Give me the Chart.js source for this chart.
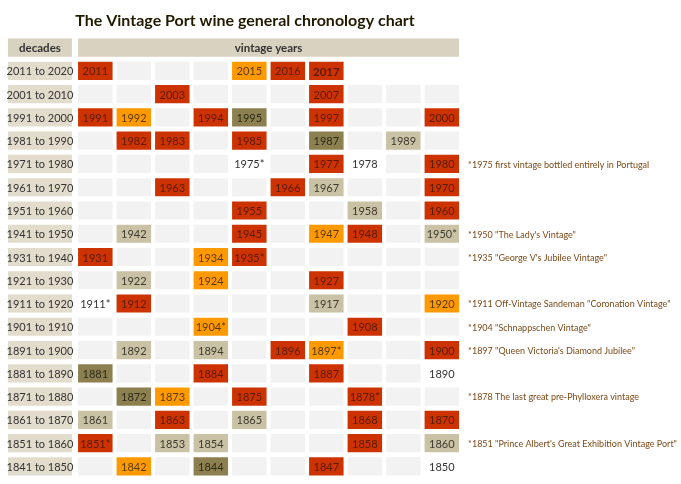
<!DOCTYPE html>
<html><head><meta charset="utf-8">
<script src="https://cdn.jsdelivr.net/npm/chart.js@4"></script>
<style>html,body{margin:0;background:#fff}#wrap{width:681px;height:484px}</style>
</head><body><div id="wrap"><canvas id="c"></canvas></div>
<script>
const decades = ['2011 to 2020','2001 to 2010','1991 to 2000','1981 to 1990','1971 to 1980','1961 to 1970','1951 to 1960','1941 to 1950','1931 to 1940','1921 to 1930','1911 to 1920','1901 to 1910','1891 to 1900','1881 to 1890','1871 to 1880','1861 to 1870','1851 to 1860','1841 to 1850'];
// R red, O orange, D olive, T tan, W no box, G grey empty, N nothing
const types = ['RGGGORRNNN','GGRGGGRGGG','ROGRDGRGGR','GRRGRGDGTG','GGGGWGRWGR','GGRGGRTGGR','GGGGRGGTGR','GTGGRGORGT','RGGORGGGGG','GTGOGGRGGG','WRGGGGTGGO','GGGOGGGRGG','GTGTGROGGR','DGGRGGRGGW','GDOGRGGRGG','TGRGTGGRGR','RGTTGGGRGT','GOGDGGRGGW'];
const years = [
 ['2011','','','','2015','2016','2017','','',''],
 ['','','2003','','','','2007','','',''],
 ['1991','1992','','1994','1995','','1997','','','2000'],
 ['','1982','1983','','1985','','1987','','1989',''],
 ['','','','','1975*','','1977','1978','','1980'],
 ['','','1963','','','1966','1967','','','1970'],
 ['','','','','1955','','','1958','','1960'],
 ['','1942','','','1945','','1947','1948','','1950*'],
 ['1931','','','1934','1935*','','','','',''],
 ['','1922','','1924','','','1927','','',''],
 ['1911*','1912','','','','','1917','','','1920'],
 ['','','','1904*','','','','1908','',''],
 ['','1892','','1894','','1896','1897*','','','1900'],
 ['1881','','','1884','','','1887','','','1890'],
 ['','1872','1873','','1875','','','1878*','',''],
 ['1861','','1863','','1865','','','1868','','1870'],
 ['1851*','','1853','1854','','','','1858','','1860'],
 ['','1842','','1844','','','1847','','','1850']];
const notes = {4:'*1975 first vintage bottled entirely in Portugal',7:'*1950 "The Lady\'s Vintage"',8:'*1935 "George V\'s Jubilee Vintage"',10:'*1911 Off-Vintage Sandeman "Coronation Vintage"',11:'*1904 "Schnappschen Vintage"',12:'*1897 "Queen Victoria\'s Diamond Jubilee"',14:'*1878 The last great pre-Phylloxera vintage',16:'*1851 "Prince Albert\'s Great Exhibition Vintage Port"'};

const fill = {R:'#cc3300',O:'#ff9900',D:'#8c8050',T:'#cac2a4',W:'rgba(0,0,0,0)',G:'#f2f2f2',N:'rgba(0,0,0,0)'};
const ink = {R:'#5a1a08',O:'#5a3a10',D:'#2e2a18',T:'#3e3a30',W:'#333',G:'#333',N:'#333'};
const labels = ['header'].concat(decades);
const W = 0.896;

const datasets = [];
// decade column (and its header)
datasets.push({
  data: labels.map(() => [-1.82, -0.16]),
  backgroundColor: labels.map((l, i) => i === 0 ? '#d8d2c0' : '#e2dccd'),
  texts: ['decades'].concat(decades), inks: labels.map(() => '#333'), bolds: labels.map((l, i) => i === 0)
});
for (let c = 0; c < 10; c++) {
  datasets.push({
    data: labels.map((l, i) => i === 0 ? (c === 0 ? [0, 9 + W] : null) : [c, c + W]),
    backgroundColor: labels.map((l, i) => i === 0 ? '#d8d2c0' : fill[types[i - 1][c]]),
    texts: labels.map((l, i) => i === 0 ? (c === 0 ? 'vintage years' : '') : years[i - 1][c]),
    inks: labels.map((l, i) => i === 0 ? '#333' : ink[types[i - 1][c]]),
    bolds: labels.map((l, i) => i === 0 || (i === 1 && c === 6))
  });
}

const textPlugin = {
  id: 'texts',
  afterDatasetsDraw(chart) {
    const ctx = chart.ctx;
    ctx.save();
    ctx.textAlign = 'center'; ctx.textBaseline = 'middle';
    chart.data.datasets.forEach((ds, di) => {
      chart.getDatasetMeta(di).data.forEach((el, i) => {
        const t = ds.texts[i];
        if (!t || !el) return;
        ctx.fillStyle = ds.inks[i];
        ctx.font = (ds.bolds[i] ? 'bold 11.5px ' : '11px ') + 'Lato';
        const p = el.getProps(['x', 'base', 'y']);
        ctx.fillText(t, (p.x + p.base) / 2, p.y + 1);
      });
    });
    const xs = chart.scales.x, ys = chart.scales.y;
    ctx.textAlign = 'left'; ctx.font = '9px Lato'; ctx.fillStyle = '#7a4a18';
    Object.keys(notes).forEach(r => {
      ctx.fillText(notes[r], xs.getPixelForValue(10.13), ys.getPixelForValue(+r + 1) + 1);
    });
    ctx.textAlign = 'center'; ctx.fillStyle = '#221a00';
    ctx.font = 'bold 16px Lato';
    ctx.fillText('The Vintage Port wine general chronology chart', 245, 21);
    ctx.restore();
  }
};

new Chart(document.getElementById('c'), {
  type: 'bar',
  data: { labels, datasets },
  options: {
    indexAxis: 'y', responsive: true, maintainAspectRatio: false, animation: false,
    layout: { padding: { left: 8, right: 0, top: 36, bottom: 6 } },
    datasets: { bar: { grouped: false, barPercentage: 0.78, categoryPercentage: 1, borderWidth: 0 } },
    scales: {
      x: { type: 'linear', min: -1.82, max: 15.66, display: false },
      y: { type: 'category', display: false }
    },
    plugins: { legend: { display: false }, tooltip: { enabled: false }, title: { display: false } }
  },
  plugins: [textPlugin]
});
</script></body></html>
